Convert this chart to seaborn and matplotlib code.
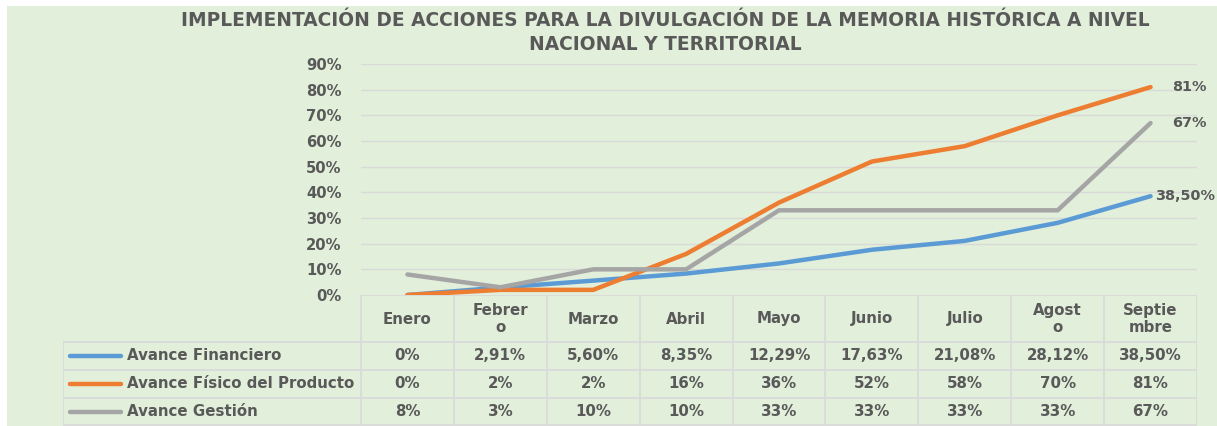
import matplotlib
matplotlib.use("Agg")
import matplotlib.pyplot as plt
from matplotlib.patches import Rectangle
import numpy as np
import pandas as pd
import seaborn as sns

# datos
meses = ["Enero", "Febrero", "Marzo", "Abril", "Mayo", "Junio", "Julio", "Agosto", "Septiembre"]
meses_tabla = ["Enero", "Febrer\no", "Marzo", "Abril", "Mayo", "Junio", "Julio", "Agost\no", "Septie\nmbre"]
series = ["Avance Financiero", "Avance Físico del Producto", "Avance Gestión"]
financiero = [0.0, 2.91, 5.60, 8.35, 12.29, 17.63, 21.08, 28.12, 38.50]
fisico = [0, 2, 2, 16, 36, 52, 58, 70, 81]
gestion = [8, 3, 10, 10, 33, 33, 33, 33, 67]
etiquetas_fin = ["0%", "2,91%", "5,60%", "8,35%", "12,29%", "17,63%", "21,08%", "28,12%", "38,50%"]
etiquetas_fis = [f"{v}%" for v in fisico]
etiquetas_ges = [f"{v}%" for v in gestion]
colores = {"Avance Financiero": "#5B9BD5",
           "Avance Físico del Producto": "#ED7D31",
           "Avance Gestión": "#A5A5A5"}

VERDE = "#E2EFDA"
GRIS_TXT = "#595959"
GRIS_LIN = "#D9D9D9"
FS = 10.8  # tamaño de letra de la tabla

sns.set_style("white")
plt.rcParams['font.family'] = ['DejaVu Sans']
plt.rcParams['font.weight'] = 'bold'

df = pd.DataFrame({
    "idx": list(range(len(meses))) * 3,
    "valor": financiero + fisico + gestion,
    "serie": [s for s in series for _ in meses],
})

W, H = 1217, 426
fig = plt.figure(figsize=(W / 100, H / 100), dpi=100)
fig.patch.set_facecolor("white")
fig.patches.append(Rectangle((7 / W, 0), 1 - 7 / W, (H - 6) / H, transform=fig.transFigure,
                             facecolor=VERDE, edgecolor="none", zorder=-10))


def px_axes(x0, y0, x1, y1):
    return fig.add_axes([x0 / W, 1 - y1 / H, (x1 - x0) / W, (y1 - y0) / H])


# grafico de lineas
ax = px_axes(361, 64, 1197, 295)
ax.patch.set_alpha(0)
ax.set_yticks(np.arange(0, 91, 10))
ax.set_yticklabels([f"{t}%" for t in range(0, 91, 10)])
for t in range(10, 91, 10):
    ax.axhline(t, color=GRIS_LIN, lw=1, zorder=0)
sns.lineplot(data=df, x="idx", y="valor", hue="serie", palette=colores, hue_order=series,
             lw=3.2, ax=ax, legend=False, sort=False)
ax.set_xlim(-0.5, 8.5)
ax.set_ylim(0, 90)
ax.set_xticks([])
ax.set_xlabel("")
ax.set_ylabel("")
for sp in ax.spines.values():
    sp.set_visible(False)
ax.tick_params(axis="y", length=0, pad=14, labelsize=10.6, labelcolor=GRIS_TXT)
for lab in ax.get_yticklabels():
    lab.set_fontweight("bold")

# etiquetas del ultimo punto
kw = dict(textcoords="offset pixels", va="center", ha="left", fontsize=10.4,
          color=GRIS_TXT, fontweight="bold", annotation_clip=False)
ax.annotate("81%", (8, fisico[-1]), xytext=(22, 0), **kw)
ax.annotate("67%", (8, gestion[-1]), xytext=(22, 0), **kw)
ax.annotate("38,50%", (8, financiero[-1]), xytext=(5, 0), **kw)

# tabla de datos
tx = px_axes(63, 295, 1197, 426)
tx.patch.set_alpha(0)
x_izq = -0.5 - (361 - 63) / (836 / 9)
tx.set_xlim(x_izq, 8.5)
tx.set_ylim(131, 0)
tx.axis("off")
filas = [0, 47, 75, 103, 130]
tx.hlines(0, -0.5, 8.5, color=GRIS_LIN, lw=1.2)
tx.hlines(filas[1:], x_izq, 8.5, color=GRIS_LIN, lw=1.2)
tx.vlines(x_izq, filas[1], filas[-1], color=GRIS_LIN, lw=1.2)
tx.vlines(np.arange(-0.5, 9, 1), 0, filas[-1], color=GRIS_LIN, lw=1.2)

for i, m in enumerate(meses_tabla):
    tx.text(i, 24, m, ha="center", va="center", fontsize=FS, color=GRIS_TXT,
            fontweight="bold", linespacing=1.15)

px2x = lambda p: x_izq + (p - 63) / (836 / 9)
for r, (serie, etqs) in enumerate(zip(series, [etiquetas_fin, etiquetas_fis, etiquetas_ges])):
    yc = (filas[r + 1] + filas[r + 2]) / 2
    tx.plot([px2x(70), px2x(121)], [yc, yc], color=colores[serie], lw=3.2, solid_capstyle="round")
    tx.text(px2x(127), yc, serie, ha="left", va="center", fontsize=FS, color=GRIS_TXT, fontweight="bold")
    for i, e in enumerate(etqs):
        tx.text(i, yc, e, ha="center", va="center", fontsize=FS, color=GRIS_TXT, fontweight="bold")

# titulo
t1 = fig.text(665 / W, 1 - 21 / H, "IMPLEMENTACIÓN DE ACCIONES PARA LA DIVULGACIÓN DE LA MEMORIA HISTÓRICA A NIVEL",
              ha="center", va="center", fontsize=13, color=GRIS_TXT, fontweight="bold")
rend = fig.canvas.get_renderer()
t1.set_fontsize(13 * 961 / t1.get_window_extent(rend).width)
fig.text(665 / W, 1 - 45 / H, "NACIONAL Y TERRITORIAL",
         ha="center", va="center", fontsize=t1.get_fontsize(), color=GRIS_TXT, fontweight="bold")

fig.savefig("out.png", dpi=100, facecolor=fig.get_facecolor())
